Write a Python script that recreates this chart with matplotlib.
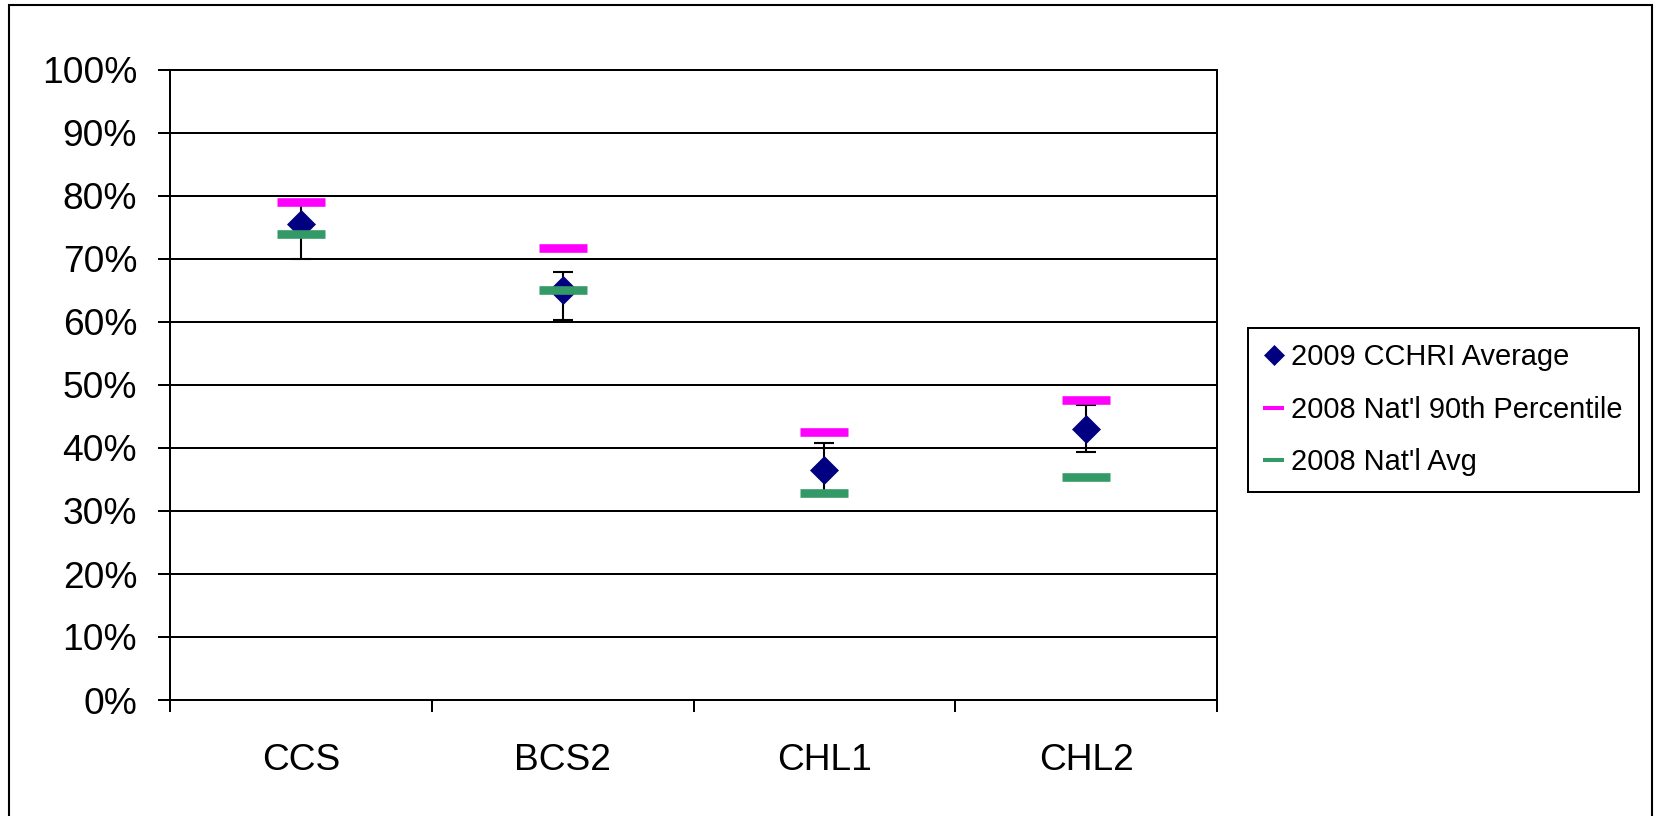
import numpy as np
import matplotlib
matplotlib.use("Agg")
import matplotlib.pyplot as plt
from matplotlib.lines import Line2D
from matplotlib.patches import Rectangle

# ---- data ----
categories = ["CCS", "BCS2", "CHL1", "CHL2"]
cchri_avg = [75.6, 65.0, 36.5, 43.0]
ci_low = [70.0, 60.3, 33.2, 39.4]
ci_high = [78.8, 67.9, 40.8, 46.9]
natl_90th = [79.0, 71.8, 42.6, 47.6]
natl_avg = [74.0, 65.0, 32.9, 35.4]
y_ticks = [0, 10, 20, 30, 40, 50, 60, 70, 80, 90, 100]
y_tick_labels = ["0%", "10%", "20%", "30%", "40%", "50%", "60%", "70%", "80%", "90%", "100%"]
legend_labels = ["2009 CCHRI Average", "2008 Nat'l 90th Percentile", "2008 Nat'l Avg"]

NAVY = "#000080"
MAGENTA = "#FF00FF"
GREEN = "#339966"

plt.rcParams["font.family"] = ["Liberation Sans", "DejaVu Sans"]

W, H = 1655, 816
fig = plt.figure(figsize=(W / 100, H / 100), dpi=100)
ax = fig.add_axes([170 / W, 1 - 700 / H, (1217 - 170) / W, 630 / H])

x = np.arange(1, len(categories) + 1)
avg = np.array(cchri_avg)
lo = np.array(ci_low)
hi = np.array(ci_high)

ax.errorbar(x, avg, yerr=[avg - lo, hi - avg], fmt="none", ecolor="black",
            elinewidth=1.5, capsize=7.2, capthick=1.5, zorder=3)
ax.plot(x, avg, ls="none", marker="D", ms=14.5, mfc=NAVY, mec=NAVY, mew=0.5, zorder=4)
ax.plot(x, natl_90th, ls="none", marker="_", ms=34, mew=6.2, color=MAGENTA, zorder=5)
ax.plot(x, natl_avg, ls="none", marker="_", ms=34, mew=6.2, color=GREEN, zorder=6)

ax.set_xlim(0.5, len(categories) + 0.5)
ax.set_ylim(0, 100)

ax.set_yticks(y_ticks)
ax.set_yticklabels(y_tick_labels)
ax.set_xticks(np.arange(0.5, len(categories) + 1, 1.0))
ax.set_xticklabels([])
ax.set_xticks(x, minor=True)
ax.set_xticklabels(categories, minor=True)

ax.tick_params(axis="y", which="major", direction="out", length=8.6, width=1.44,
               pad=15, labelsize=26.7, colors="black")
ax.tick_params(axis="x", which="major", direction="out", length=8.6, width=1.44)
ax.tick_params(axis="x", which="minor", length=0, pad=31, labelsize=26.7)

ax.yaxis.grid(True, color="black", linewidth=1.44)
ax.set_axisbelow(True)
for s in ax.spines.values():
    s.set_color("black")
    s.set_linewidth(1.44)

handles = [
    Line2D([], [], ls="none", marker="D", ms=10, mfc=NAVY, mec=NAVY, mew=0.5),
    Line2D([], [], color=MAGENTA, lw=2.9, solid_capstyle="butt"),
    Line2D([], [], color=GREEN, lw=2.9, solid_capstyle="butt"),
]
leg = fig.legend(handles, legend_labels, loc="upper left",
                 bbox_to_anchor=(1248 / W, 1 - 328 / H, (1639 - 1248) / W, 0),
                 mode="expand", borderaxespad=0, fontsize=20.9, frameon=True,
                 fancybox=False, shadow=False, framealpha=1, edgecolor="black",
                 handlelength=0.72, handletextpad=0.25, borderpad=0.52,
                 labelspacing=0.85)
leg.get_frame().set_linewidth(1.44)

fig.add_artist(Rectangle((9 / W, -0.05), (1652 - 9) / W, 1 - 5 / H + 0.05,
                         transform=fig.transFigure, fill=False,
                         edgecolor="black", linewidth=1.5))

fig.savefig("out.png", dpi=100)
